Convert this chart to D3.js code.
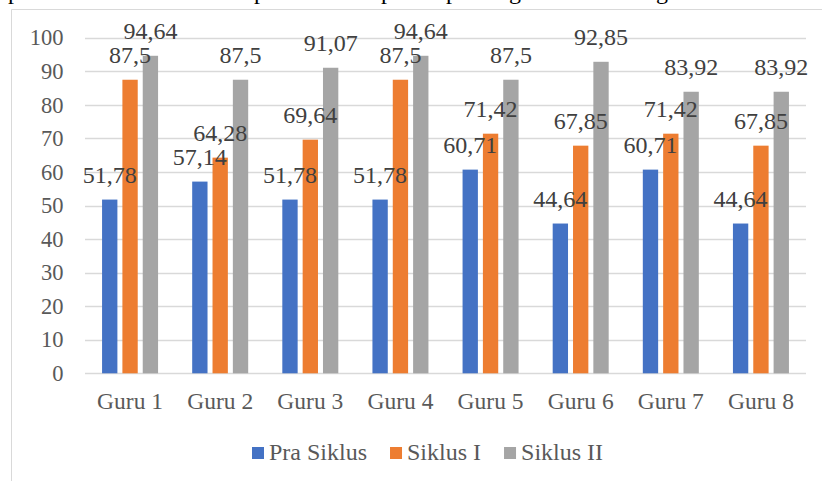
<!DOCTYPE html>
<html>
<head>
<meta charset="utf-8">
<script src="https://cdn.jsdelivr.net/npm/d3@7"></script>
<style>
  body { margin: 0; background: #fff; }
  svg { display: block; font-family: "Liberation Serif", "Times New Roman", serif; }
</style>
</head>
<body>
<svg id="chart" width="822" height="481"></svg>
<script>
const categories = ['Guru 1', 'Guru 2', 'Guru 3', 'Guru 4', 'Guru 5', 'Guru 6', 'Guru 7', 'Guru 8']
const seriesNames = ['Pra Siklus', 'Siklus I', 'Siklus II']
const praSiklus = [51.78, 57.14, 51.78, 51.78, 60.71, 44.64, 60.71, 44.64]
const siklusI = [87.5, 64.28, 69.64, 87.5, 71.42, 67.85, 71.42, 67.85]
const siklusII = [94.64, 87.5, 91.07, 94.64, 87.5, 92.85, 83.92, 83.92]
const yTicks = [0, 10, 20, 30, 40, 50, 60, 70, 80, 90, 100]
const colors = ['#4472C4', '#ED7D31', '#A5A5A5']

const values = [praSiklus, siklusI, siklusII]
const rows = []
categories.forEach((c, i) => {
  seriesNames.forEach((s, j) => {
    rows.push({cat: c, series: s, value: values[j][i], idx: j})
  })
})

const svg = d3.select('#chart')

// clipped line of document text above the chart
svg.append('g')
  .selectAll('text')
  .data([['p', 8], ['p', 254], ['p', 381], ['p', 446], ['g', 509], ['g', 656]])
  .enter()
  .append('text')
  .attr('x', d => d[1])
  .attr('y', -1)
  .attr('font-size', 24)
  .attr('fill', '#000')
  .text(d => d[0])

// chart frame
svg.append('path')
  .attr('d', 'M11.5,481 V9.5 H822')
  .attr('fill', 'none')
  .attr('stroke', '#d9d9d9')
  .attr('stroke-width', 1)

const x = d3.scaleBand().domain(categories).range([85, 806])
const groupW = 56
const xs = d3.scaleBand().domain(seriesNames)
  .range([(x.bandwidth() - groupW) / 2, (x.bandwidth() + groupW) / 2])
  .paddingInner(0.246)
const y = d3.scaleLinear().domain([0, 100]).range([373.3, 37.8])

// gridlines
svg.append('g')
  .selectAll('line')
  .data(yTicks)
  .enter()
  .append('line')
  .attr('x1', 85)
  .attr('x2', 806)
  .attr('y1', d => Math.round(y(d)) + 0.5)
  .attr('y2', d => Math.round(y(d)) + 0.5)
  .attr('stroke', '#d9d9d9')
  .attr('stroke-width', d => d === 0 ? 1.5 : 1.3)

// y tick labels
svg.append('g')
  .selectAll('text')
  .data(yTicks)
  .enter()
  .append('text')
  .attr('x', 63.5)
  .attr('y', d => y(d))
  .attr('dy', '0.34em')
  .attr('text-anchor', 'end')
  .attr('font-size', 22.5)
  .attr('fill', '#595959')
  .text(d => d)

// bars
svg.append('g')
  .selectAll('rect')
  .data(rows)
  .enter()
  .append('rect')
  .attr('x', d => x(d.cat) + xs(d.series))
  .attr('width', xs.bandwidth())
  .attr('y', d => y(d.value))
  .attr('height', d => y(0) - y(d.value))
  .attr('fill', d => colors[d.idx])

// data labels
svg.append('g')
  .selectAll('text')
  .data(rows)
  .enter()
  .append('text')
  .attr('x', d => x(d.cat) + xs(d.series) + xs.bandwidth() / 2)
  .attr('y', d => y(d.value) - 16.5)
  .attr('text-anchor', 'middle')
  .attr('font-size', 24)
  .attr('fill', '#404040')
  .text(d => String(d.value).replace('.', ','))

// category labels
svg.append('g')
  .selectAll('text')
  .data(categories)
  .enter()
  .append('text')
  .attr('x', d => x(d) + x.bandwidth() / 2)
  .attr('y', 408.5)
  .attr('text-anchor', 'middle')
  .attr('font-size', 23.5)
  .attr('fill', '#595959')
  .text(d => d)

// legend
const legend = svg.append('g').attr('class', 'legend')
let lx = 252
seriesNames.forEach((s, i) => {
  const item = legend.append('g').attr('transform', 'translate(' + lx + ',0)')
  item.append('rect')
    .attr('x', 0)
    .attr('y', 447)
    .attr('width', 12)
    .attr('height', 12)
    .attr('fill', colors[i])
  const t = item.append('text')
    .attr('x', 17)
    .attr('y', 460)
    .attr('font-size', 24)
    .attr('fill', '#595959')
    .text(s)
  lx += 17 + t.node().getComputedTextLength() + 23
})
</script>
</body>
</html>
